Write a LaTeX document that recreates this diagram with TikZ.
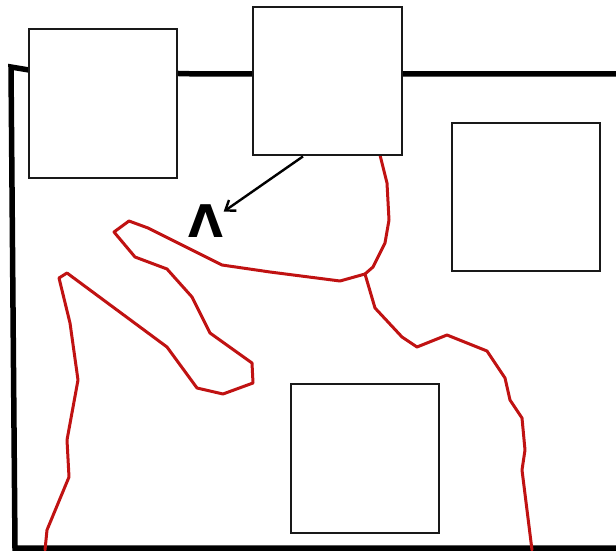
\documentclass[tikz,border=0pt]{standalone}
\usepackage{fontspec}
\newfontfamily\caretfont{DejaVu Sans}
\usetikzlibrary{arrows.meta}
\definecolor{zonered}{RGB}{192,18,18}
\tikzset{
  box/.style={draw=black!90, line width=2.8pt, fill=white, inner sep=0pt},
  frameline/.style={line width=5.5pt, line join=miter},
  zoneline/.style={draw=zonered, line width=3pt, line join=round, line cap=round},
  pointer/.style={line width=2.4pt, -{Straight Barb[length=9pt,width=13pt,line width=2.4pt]}},
  caretmark/.style={inner sep=0pt, font=\caretfont\bfseries\fontsize{45}{45}\selectfont}
}
\begin{document}
\begin{tikzpicture}[x=1pt,y=-1pt]
\useasboundingbox (0,0) rectangle (616,551);
% frame
\draw[frameline] (618,74) -- (200,74) -- (29,70) -- (11,67) -- (15,548) -- (618,548);
% red zone line
\draw[zoneline] (380,155) -- (387,183) -- (389,220) -- (385,243) -- (373,267) -- (365,274)
  -- (340,281) -- (270,272) -- (222,265) -- (148,228) -- (129,221) -- (114,232) -- (135,257)
  -- (167,269) -- (192,297) -- (210,333) -- (252,363) -- (253,383) -- (223,394) -- (197,388)
  -- (167,347) -- (67,273) -- (59,278) -- (70,323) -- (78,380) -- (67,440) -- (69,477)
  -- (47,530) -- (45,550);
\draw[zoneline] (365,274) -- (375,308) -- (402,337) -- (417,347) -- (447,335) -- (487,351)
  -- (505,378) -- (510,400) -- (522,418) -- (525,450) -- (522,470) -- (532,550);
% boxes
\node[box, minimum width=148pt, minimum height=149pt] (box1) at (103,103.5) {};
\node[box, minimum width=149pt, minimum height=148pt] (box2) at (327.5,81) {};
\node[box, minimum width=148pt, minimum height=148pt] (box3) at (526,197) {};
\node[box, minimum width=148pt, minimum height=149pt] (box4) at (365,458.5) {};
% caret and arrow
\node[caretmark] (caret) at (206,221) {Λ};
\coordinate (astart) at ([xshift=-24.5pt]box2.south);
\draw[pointer] (astart) -- (caret.28);
\end{tikzpicture}
\end{document}
